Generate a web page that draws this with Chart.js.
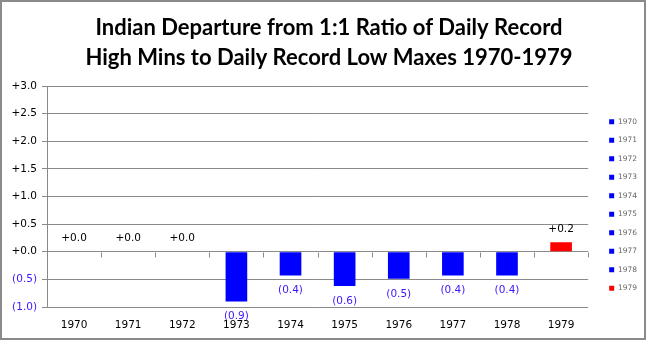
<!DOCTYPE html>
<html>
<head>
<meta charset="utf-8">
<script src="https://cdn.jsdelivr.net/npm/chart.js@4.4.1/dist/chart.umd.min.js"></script>
<style>
  html, body { margin: 0; padding: 0; background: #fff; }
  #wrap { width: 647px; height: 341px; }
</style>
</head>
<body>
<div id="wrap"><canvas id="departureChart" width="647" height="341"></canvas></div>
<script>
// Datos del gráfico
const years = ['1970', '1971', '1972', '1973', '1974', '1975', '1976', '1977', '1978', '1979'];
const departures = [0, 0, 0, -0.9, -0.43, -0.62, -0.49, -0.43, -0.43, 0.17];
const yTickValues = [-1, -0.5, 0, 0.5, 1, 1.5, 2, 2.5, 3];
const titleLines = ['Indian Departure from 1:1 Ratio of Daily Record', 'High Mins to Daily Record Low Maxes 1970-1979'];

const negColor = '#3a16ff';
const gridColor = '#8a8a8a';
const barColors = departures.map(v => v > 0 ? '#ff0000' : '#0000ff');

// Formato: positivos con "+", negativos entre paréntesis
function formatValue(v) {
    return v < 0 ? '(' + Math.abs(v).toFixed(1) + ')' : '+' + v.toFixed(1);
}

// Marco gris alrededor del gráfico
const chartBorder = {
    id: 'chartBorder',
    beforeDraw(chart) {
        const ctx = chart.ctx;
        ctx.save();
        ctx.fillStyle = '#fff';
        ctx.fillRect(0, 0, chart.width, chart.height);
        ctx.strokeStyle = '#8a8a8a';
        ctx.lineWidth = 2;
        ctx.strokeRect(1, 1, chart.width - 3, chart.height - 3);
        ctx.restore();
    }
};

// Marcas del eje en el cero, entre categorías
const zeroTicks = {
    id: 'zeroTicks',
    afterDatasetsDraw(chart) {
        const ctx = chart.ctx;
        const xs = chart.scales.x;
        const y0 = Math.round(chart.scales.y.getPixelForValue(0)) + 0.5;
        ctx.save();
        ctx.strokeStyle = gridColor;
        ctx.lineWidth = 1;
        ctx.beginPath();
        for (let i = 0; i <= years.length; i++) {
            const px = Math.round(xs.getPixelForValue(i - 0.5)) + 0.5;
            ctx.moveTo(px, y0);
            ctx.lineTo(px, y0 + 5);
        }
        ctx.stroke();
        ctx.restore();
    }
};

// Etiquetas de valor sobre / bajo cada barra
const valueLabels = {
    id: 'valueLabels',
    afterDatasetsDraw(chart) {
        const ctx = chart.ctx;
        const meta = chart.getDatasetMeta(0);
        ctx.save();
        ctx.font = '10.5px "DejaVu Sans"';
        ctx.textAlign = 'center';
        ctx.textBaseline = 'middle';
        meta.data.forEach((bar, i) => {
            const v = departures[i];
            if (v >= 0) {
                ctx.fillStyle = '#000';
                ctx.fillText(formatValue(v), bar.x, bar.y - 13);
            } else {
                ctx.fillStyle = negColor;
                ctx.fillText(formatValue(v), bar.x, bar.y + 15);
            }
        });
        ctx.restore();
    }
};

const ctxDeparture = document.getElementById('departureChart').getContext('2d');
const departureChart = new Chart(ctxDeparture, {
    type: 'bar',
    data: {
        labels: years,
        datasets: [{
            label: 'Departure',
            data: departures,
            backgroundColor: barColors,
            borderWidth: 0,
            barPercentage: 0.4,
            categoryPercentage: 1
        }]
    },
    options: {
        responsive: false,
        animation: false,
        layout: { padding: { left: 11, right: 0, top: 0, bottom: 9 } },
        plugins: {
            title: {
                display: true,
                text: titleLines,
                color: '#000',
                font: { family: 'Lato', size: 22, weight: 'bold', lineHeight: '30px' },
                padding: { top: 13, bottom: 13 }
            },
            legend: {
                position: 'right',
                onClick: null,
                // título vacío para bajar la columna de la leyenda
                title: { display: true, text: ' ', font: { size: 10 }, padding: 33 },
                labels: {
                    boxWidth: 5,
                    boxHeight: 5,
                    padding: 11,
                    color: '#222',
                    font: { family: 'DejaVu Sans', size: 7.5 },
                    generateLabels: () => years.map((y, i) => ({
                        text: y,
                        fillStyle: barColors[i],
                        strokeStyle: barColors[i],
                        lineWidth: 0,
                        hidden: false,
                        index: i
                    }))
                }
            },
            tooltip: { enabled: false }
        },
        scales: {
            x: {
                offset: true,
                grid: { display: false, drawTicks: false },
                border: { display: false },
                ticks: { color: '#000', padding: 12, font: { family: 'DejaVu Sans', size: 10.5 } },
                afterFit: (scale) => { scale.height = 25; }
            },
            y: {
                min: -1,
                max: 3,
                afterBuildTicks: (scale) => { scale.ticks = yTickValues.map(v => ({ value: v })); },
                grid: { color: gridColor, tickLength: 5 },
                border: { display: true, color: gridColor },
                ticks: {
                    padding: 5,
                    font: { family: 'DejaVu Sans', size: 10.5 },
                    color: (c) => c.tick && c.tick.value < 0 ? negColor : '#000',
                    callback: (v) => formatValue(v)
                },
                afterFit: (scale) => { scale.width = 36; }
            },
            // Espacio entre el área del gráfico y la leyenda
            gap: {
                type: 'linear',
                position: 'right',
                grid: { display: false, drawTicks: false },
                border: { display: false },
                ticks: { display: false },
                afterFit: (scale) => { scale.width = 10; }
            }
        }
    },
    plugins: [chartBorder, zeroTicks, valueLabels]
});
</script>
</body>
</html>
